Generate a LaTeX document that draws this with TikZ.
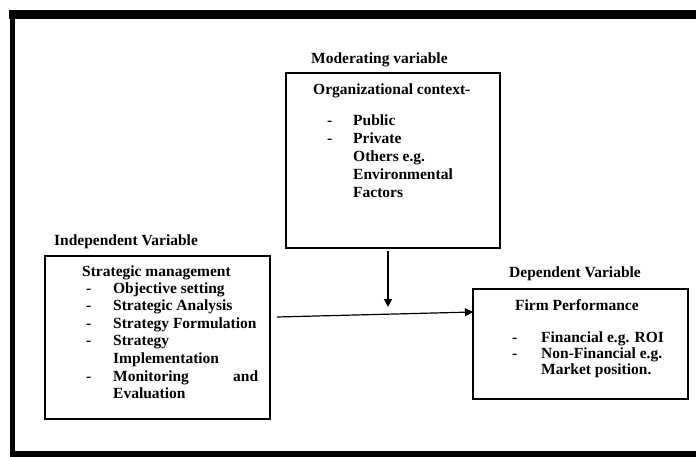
\documentclass[tikz,border=0pt]{standalone}
\usepackage{fontspec}
\setmainfont{Liberation Serif}
\usetikzlibrary{arrows.meta}

\begin{document}
\begin{tikzpicture}[x=1pt,y=-1pt,
    box/.style={draw,line width=1.3pt,inner sep=0pt},
    txt/.style={anchor=base west,inner sep=0pt,font=\fontsize{15.5}{17.5}\selectfont\bfseries},
    arr/.style={-{Triangle[length=8pt,width=8pt]},line width=1.2pt}]
    \useasboundingbox (0,0) rectangle (696,457);
    \fill (9,10) rectangle (696,19);
    \fill (10,10) rectangle (15,457);
    \fill (10,451) rectangle (696,457);
    \node [box,minimum width=214pt,minimum height=175pt] (modbox) at (393,160.5) {};
    \node [box,minimum width=225pt,minimum height=163pt] (indbox) at (157.5,337.5) {};
    \node [box,minimum width=215pt,minimum height=110pt] (depbox) at (580.5,344) {};
    \node [txt] (modlabel) at (311,64) {Moderating variable};
    \node [txt] (indlabel) at (54,246) {Independent Variable};
    \node [txt] (deplabel) at (509,277) {Dependent Variable};
    \node [txt,font=\fontsize{15.5}{18}\selectfont\bfseries] (modtext) at (313,95) {\begin{tabular}[t]{@{}l@{}l@{}}
      \multicolumn{2}{@{}l@{}}{Organizational context-}\\[13pt]
      \makebox[40pt][l]{\hspace{14pt}-} & Public\\
      \makebox[40pt][l]{\hspace{14pt}-} & Private\\
      & Others e.g.\\
      & Environmental\\
      & Factors
    \end{tabular}};
    \node [txt] (indtext) at (82,276) {\begin{tabular}[t]{@{}l@{}l@{}}
      \multicolumn{2}{@{}l@{}}{Strategic management}\\
      \makebox[31pt][l]{\hspace{4pt}-} & Objective setting\\
      \makebox[31pt][l]{\hspace{4pt}-} & Strategic Analysis\\
      \makebox[31pt][l]{\hspace{4pt}-} & Strategy Formulation\\
      \makebox[31pt][l]{\hspace{4pt}-} & Strategy\\
      & Implementation\\
      \makebox[31pt][l]{\hspace{4pt}-} & \makebox[145pt][l]{Monitoring\hfill and}\\
      & Evaluation
    \end{tabular}};
    \node [txt,font=\fontsize{15.5}{16}\selectfont\bfseries] (deptext) at (512,310) {\begin{tabular}[t]{@{}l@{}l@{}}
      \multicolumn{2}{@{}l@{}}{\hspace{3pt}Firm Performance}\\[16pt]
      \makebox[29pt][l]{-} & Financial e.g. ROI\\
      \makebox[29pt][l]{-} & Non-Financial e.g.\\
      & Market position.
    \end{tabular}};
    \coordinate (modout) at (388,251);
    \coordinate (modtip) at (388,307);
    \draw [arr] (modout) -- (modtip);
    \coordinate (linkfrom) at (277,317);
    \coordinate (linkto) at (473,312);
    \draw [arr] (linkfrom) -- (linkto);
\end{tikzpicture}
\end{document}
